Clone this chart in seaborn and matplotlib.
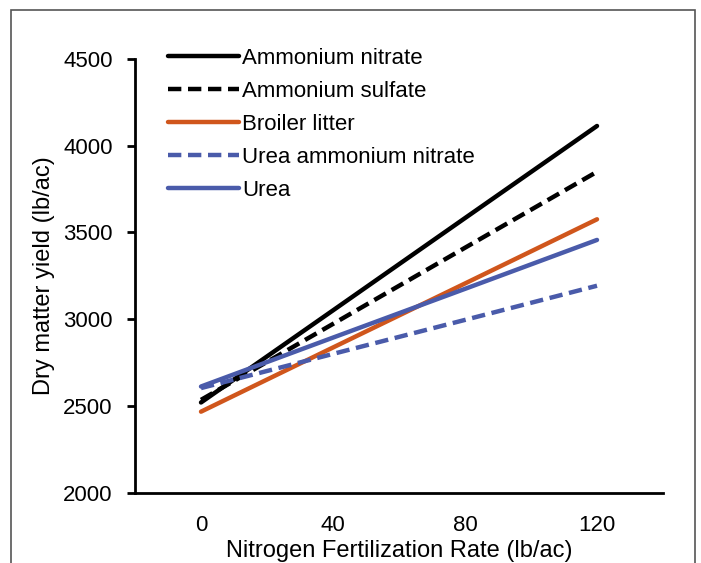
import pandas as pd
import matplotlib.pyplot as plt
import matplotlib.patches as mpatches
import seaborn as sns

# Dados: produção de matéria seca por taxa de nitrogênio
taxas = [0, 40, 80, 120]
nitrato_amonio = [2520, 3051, 3583, 4114]
sulfato_amonio = [2535, 2973, 3412, 3850]
cama_frango = [2467, 2837, 3206, 3576]
uan = [2603, 2800, 2996, 3193]
ureia = [2612, 2894, 3175, 3457]

series = {
    "Ammonium nitrate": nitrato_amonio,
    "Ammonium sulfate": sulfato_amonio,
    "Broiler litter": cama_frango,
    "Urea ammonium nitrate": uan,
    "Urea": ureia,
}
cores = {
    "Ammonium nitrate": "black",
    "Ammonium sulfate": "black",
    "Broiler litter": "#D0561C",
    "Urea ammonium nitrate": "#4A5BAA",
    "Urea": "#4A5BAA",
}
tracejado = {
    "Ammonium nitrate": "",
    "Ammonium sulfate": (3, 1.5),
    "Broiler litter": "",
    "Urea ammonium nitrate": (3, 1.5),
    "Urea": "",
}

df = pd.DataFrame(
    [(nome, x, y) for nome, vals in series.items() for x, y in zip(taxas, vals)],
    columns=["Fertilizante", "Taxa", "Produção"],
)

sns.set_style("white")
plt.rcParams["font.family"] = ["Liberation Sans", "DejaVu Sans"]
plt.rcParams["text.color"] = "black"
plt.rcParams["axes.labelcolor"] = "black"
plt.rcParams["xtick.color"] = "black"
plt.rcParams["ytick.color"] = "black"

fig = plt.figure(figsize=(7.01, 5.63), dpi=100)
ax = fig.add_axes([0.1926, 0.1249, 0.7532, 0.7703])

sns.lineplot(
    data=df, x="Taxa", y="Produção", hue="Fertilizante", style="Fertilizante",
    palette=cores, dashes=tracejado, hue_order=list(series), style_order=list(series),
    linewidth=3.2, ax=ax, legend=True,
)

ax.set_xlim(-20, 140)
ax.set_ylim(2000, 4500)
ax.set_yticks([2000, 2500, 3000, 3500, 4000, 4500])
ax.set_xticks(taxas)
ax.set_xticks([-20, 20, 60, 100, 140], minor=True)
ax.tick_params(axis="x", which="major", length=0, pad=16, labelsize=16)
ax.tick_params(axis="x", which="minor", length=6, width=2, direction="out", color="black")
ax.tick_params(axis="y", length=6, width=2, direction="out", color="black", pad=10, labelsize=16, left=True)

for lado in ["top", "right"]:
    ax.spines[lado].set_visible(False)
for lado in ["left", "bottom"]:
    ax.spines[lado].set_color("black")
    ax.spines[lado].set_linewidth(2)

ax.set_xlabel("Nitrogen Fertilization Rate (lb/ac)", fontsize=17, labelpad=3)
ax.set_ylabel("Dry matter yield (lb/ac)", fontsize=17, labelpad=6)

handles, labels = ax.get_legend_handles_labels()
for h in handles:
    h.set_linewidth(3.2)
ax.legend(
    handles, labels, loc="upper left", bbox_to_anchor=(168 / 701, 1 - 48 / 563),
    bbox_transform=fig.transFigure, frameon=False, fontsize=16,
    handlelength=3.2, handletextpad=0.15, labelspacing=0.54, borderpad=0, borderaxespad=0,
)

# Moldura da figura
fig.patches.append(mpatches.Rectangle(
    (11 / 701, -0.1), (695 - 11) / 701, 1.1 - 10 / 563,
    transform=fig.transFigure, fill=False, edgecolor="#555555", linewidth=1.2,
))

fig.savefig("out.png", dpi=100)
